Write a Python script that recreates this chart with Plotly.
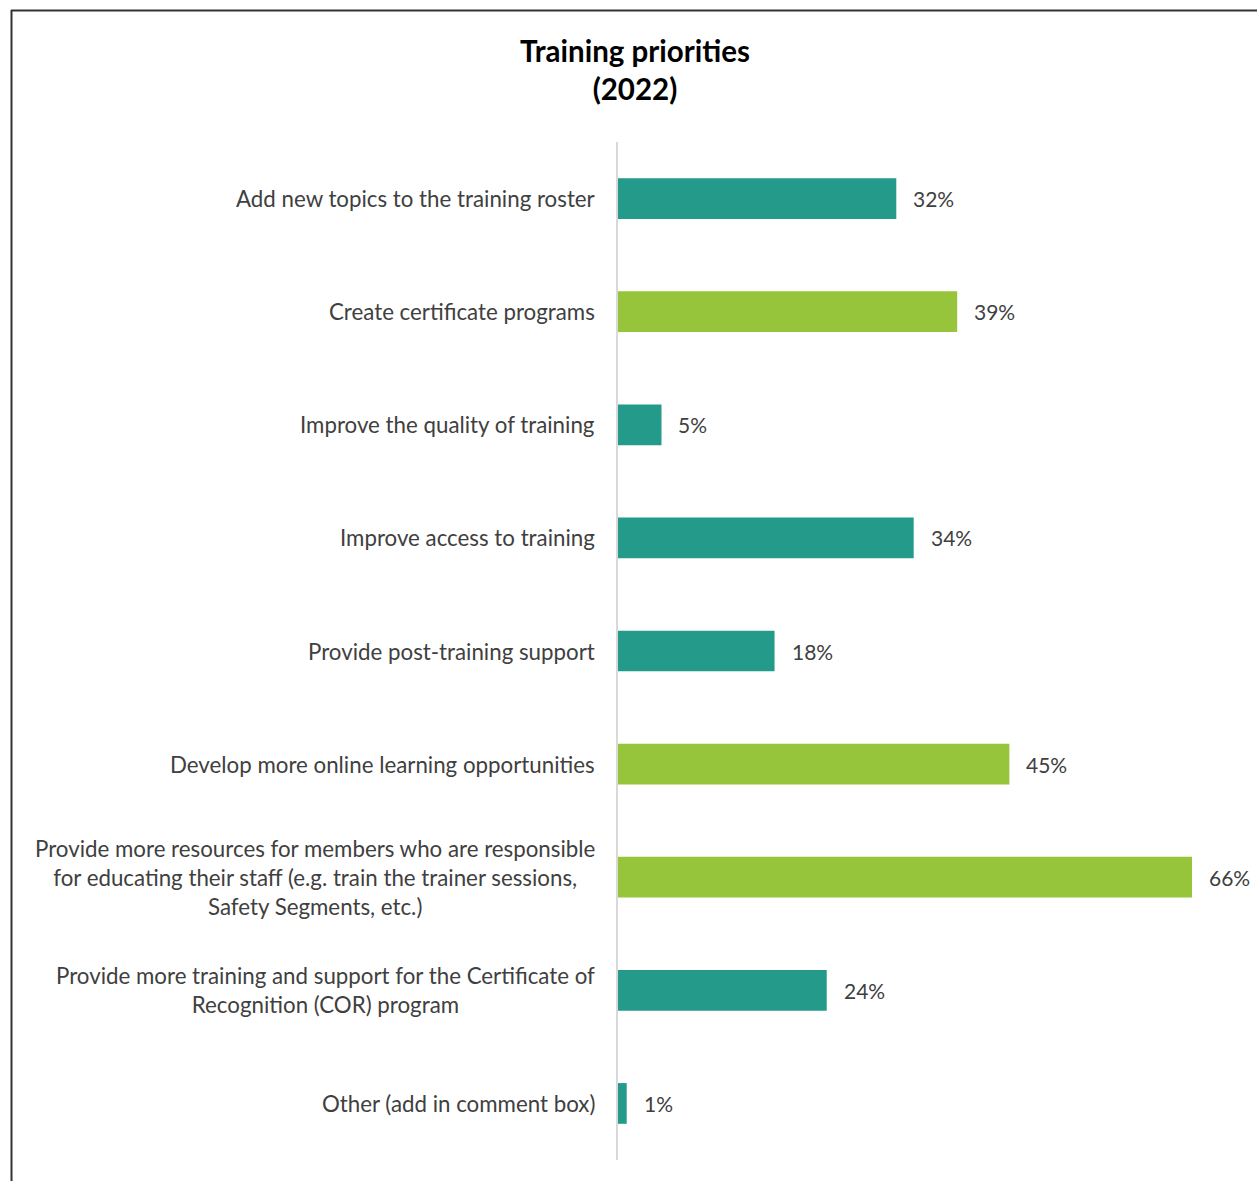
import plotly.graph_objects as go

# Survey responses: share of respondents selecting each training priority
categories = [
    "Add new topics to the training roster",
    "Create certificate programs",
    "Improve the quality of training",
    "Improve access to training",
    "Provide post-training support",
    "Develop more online learning opportunities",
    "Provide more resources for members who are responsible<br>for educating their staff (e.g. train the trainer sessions,<br>Safety Segments, etc.)",
    "Provide more training and support for the Certificate of<br>Recognition (COR) program",
    "Other (add in comment box)",
]
values = [32, 39, 5, 34, 18, 45, 66, 24, 1]
highlight = [False, True, False, False, False, True, True, False, False]

TEAL = "#249A8A"
GREEN = "#96C43A"
TEXT = "#404040"
FONT = "Lato, 'Open Sans', sans-serif"

W, H = 1257, 1181
# plot area in pixels
PX0, PX1 = 618, 1240
PY0, PY1 = 142, 1160
px_per_unit = (1192 - 618) / 66.0
xmax = (PX1 - PX0) / px_per_unit

colors = [GREEN if h else TEAL for h in highlight]
ids = list(range(len(categories)))

fig = go.Figure(
    go.Bar(
        x=values,
        y=ids,
        orientation="h",
        marker=dict(color=colors, line=dict(width=0)),
        width=0.36,
        hoverinfo="skip",
    )
)

pw, ph = PX1 - PX0, PY1 - PY0
def paper_x(px):
    return (px - PX0) / pw
def paper_y(py):
    return (PY1 - py) / ph

annotations = [
    dict(
        x=paper_x(635), xref="paper", y=paper_y(70), yref="paper",
        text="<b>Training priorities<br>(2022)</b>", showarrow=False,
        xanchor="center", yanchor="middle", align="center",
        font=dict(family=FONT, size=29.5, color="black"),
    )
]
# category labels: block right-aligned to the axis, lines centred
for i, cat in enumerate(categories):
    annotations.append(dict(
        x=0, xref="paper", y=i, yref="y",
        text=cat, showarrow=False,
        xanchor="right", yanchor="middle", align="center",
        xshift=-21,
        font=dict(family=FONT, size=22.3, color=TEXT),
    ))
# value labels just past the bar ends
for i, v in enumerate(values):
    annotations.append(dict(
        x=v, xref="x", y=i, yref="y",
        text=f"{v}%", showarrow=False,
        xanchor="left", yanchor="middle",
        xshift=15,
        font=dict(family=FONT, size=21, color=TEXT),
    ))

# outer frame (top and left edges)
shapes = [
    dict(type="line", xref="paper", yref="paper",
         x0=paper_x(11), x1=paper_x(W + 5), y0=paper_y(10.5), y1=paper_y(10.5),
         line=dict(color="#333333", width=2)),
    dict(type="line", xref="paper", yref="paper",
         x0=paper_x(11.5), x1=paper_x(11.5), y0=paper_y(10), y1=paper_y(H + 5),
         line=dict(color="#333333", width=2)),
]

fig.update_layout(
    width=W, height=H,
    margin=dict(l=PX0, r=W - PX1, t=PY0, b=H - PY1, autoexpand=False),
    paper_bgcolor="white", plot_bgcolor="white",
    showlegend=False,
    xaxis=dict(range=[0, xmax], visible=False, fixedrange=True),
    yaxis=dict(
        range=[len(categories) - 0.5, -0.5],
        showticklabels=False, showgrid=False, zeroline=False,
        showline=True, linecolor="#D9D9D9", linewidth=2,
        ticks="", fixedrange=True,
    ),
    annotations=annotations,
    shapes=shapes,
)

fig.write_html("out.html")
